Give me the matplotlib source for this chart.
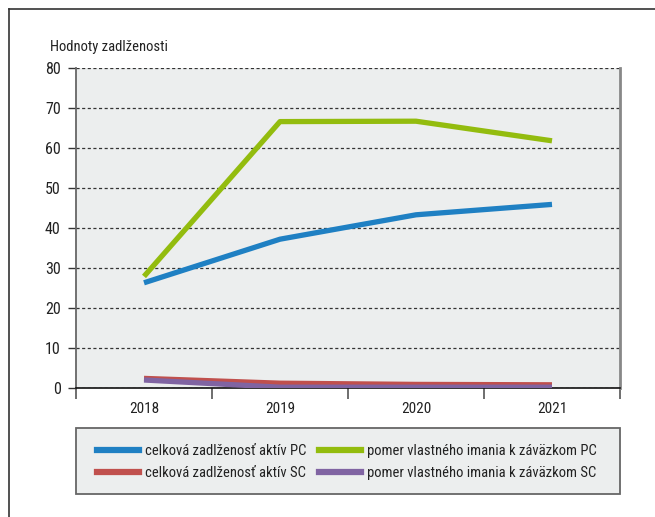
import matplotlib
matplotlib.use("Agg")
import matplotlib.pyplot as plt
from matplotlib.lines import Line2D
from matplotlib.patches import Rectangle
from matplotlib import font_manager

years = ["2018", "2019", "2020", "2021"]
celkova_pc = [26.3, 37.2, 43.3, 45.9]
pomer_pc = [27.9, 66.6, 66.7, 61.8]
celkova_sc = [2.4, 1.2, 0.9, 0.8]
pomer_sc = [2.0, 0.2, 0.2, 0.2]

label_celkova_pc = "celková zadlženosť aktív PC"
label_pomer_pc = "pomer vlastného imania k záväzkom PC"
label_celkova_sc = "celková zadlženosť aktív SC"
label_pomer_sc = "pomer vlastného imania k záväzkom SC"
y_title = "Hodnoty zadlženosti"

available = {f.name for f in font_manager.fontManager.ttflist}
family = "DejaVu Sans"
for cand in ["Roboto Condensed", "Liberation Sans Narrow", "Open Sans Condensed",
             "Noto Sans Condensed", "Roboto"]:
    if cand in available:
        family = cand
        break
plt.rcParams["font.family"] = [family, "DejaVu Sans"]

blue = "#1f80c3"
green = "#93bc0e"
red = "#c0504d"
purple = "#8064a2"
bg = "#eceeee"

fig = plt.figure(figsize=(6.55, 5.17), dpi=100)
W, H = 655, 517

def fx(px):
    return px / W

def fy(py):
    return 1 - py / H

# outer frame (top and left edges)
fig.add_artist(Line2D([fx(9), 1], [fy(9), fy(9)], color="#333333", lw=1.2, transform=fig.transFigure))
fig.add_artist(Line2D([fx(9), fx(9)], [0, fy(9)], color="#333333", lw=1.2, transform=fig.transFigure))

ax = fig.add_axes([fx(76), fy(388), (620 - 76) / W, (388 - 68) / H])
ax.set_facecolor(bg)

x = range(len(years))
lw = 3.8
ax.plot(x, celkova_pc, color=blue, lw=lw, solid_capstyle="butt", zorder=3)
ax.plot(x, pomer_pc, color=green, lw=lw, solid_capstyle="butt", zorder=3)
ax.plot(x, pomer_sc, color=purple, lw=lw, solid_capstyle="butt", zorder=3)
ax.plot(x, celkova_sc, color=red, lw=lw, solid_capstyle="butt", zorder=2.9)

ax.set_xlim(-0.5, 3.5)
ax.set_ylim(0, 80)
ax.set_yticks(range(0, 81, 10))
ax.yaxis.grid(True, linestyle=(0, (2.5, 2)), color="#333333", lw=0.9)
ax.set_axisbelow(True)

ax.set_xticks(list(x))
ax.set_xticklabels(years)
ax.set_xticks([-0.5, 0.5, 1.5, 2.5, 3.5], minor=True)
ax.tick_params(axis="x", which="major", length=0, pad=10, labelsize=11, labelcolor="#222222")
ax.tick_params(axis="x", which="minor", length=8, width=1.2, color="#555555", direction="out")
ax.tick_params(axis="y", length=6, width=1, color="#333333", labelsize=11.5, pad=5, labelcolor="#222222")

ax.spines["top"].set_visible(False)
ax.spines["left"].set_color("#666666")
ax.spines["left"].set_linewidth(1.3)
ax.spines["right"].set_color("#888888")
ax.spines["right"].set_linewidth(2.0)
ax.spines["bottom"].set_color("#111111")
ax.spines["bottom"].set_linewidth(1.2)

fig.text(fx(50), fy(47), y_title, fontsize=10.5, ha="left", va="center", color="#222222")

# legend box
fig.add_artist(Rectangle((fx(76), fy(494)), (620 - 76) / W, (494 - 428) / H,
                         transform=fig.transFigure, facecolor=bg, edgecolor="#666666",
                         lw=1.3, zorder=0))

leg_kw = dict(frameon=False, fontsize=10.5, handlelength=2.9, handletextpad=0.4,
              labelspacing=0.6, borderpad=0, borderaxespad=0, loc="center left")
leg1 = fig.legend([Line2D([], [], color=blue, lw=4.5), Line2D([], [], color=red, lw=4.5)],
                  [label_celkova_pc, label_celkova_sc],
                  bbox_to_anchor=(fx(97), fy(462)), **leg_kw)
leg2 = fig.legend([Line2D([], [], color=green, lw=4.5), Line2D([], [], color=purple, lw=4.5)],
                  [label_pomer_pc, label_pomer_sc],
                  bbox_to_anchor=(fx(319), fy(462)), **leg_kw)
for lg in (leg1, leg2):
    for t in lg.get_texts():
        t.set_color("#222222")

fig.savefig("out.png", dpi=100)
